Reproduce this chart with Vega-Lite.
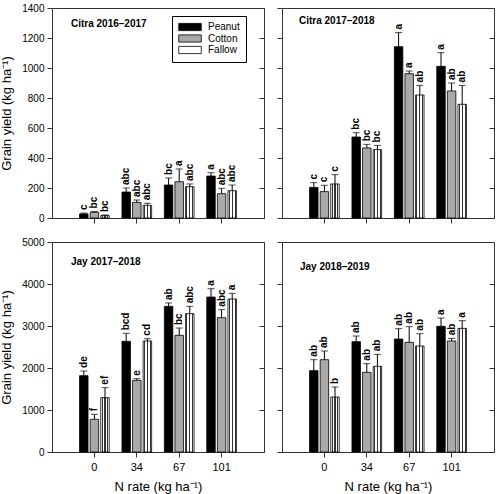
{
  "$schema": "https://vega.github.io/schema/vega-lite/v6.json",
  "background": "white",
  "padding": {"left": 0, "top": 2, "right": 5, "bottom": 0},
  "datasets": {
    "d": [
      {"panel": "Citra 2016–2017", "N": 0, "rot": "Peanut", "val": 27, "hi": 33, "lab": "c"},
      {"panel": "Citra 2016–2017", "N": 0, "rot": "Cotton", "val": 38, "hi": 44, "lab": "bc"},
      {"panel": "Citra 2016–2017", "N": 0, "rot": "Fallow", "val": 16, "hi": 20, "lab": "bc"},
      {"panel": "Citra 2016–2017", "N": 34, "rot": "Peanut", "val": 173, "hi": 200, "lab": "abc"},
      {"panel": "Citra 2016–2017", "N": 34, "rot": "Cotton", "val": 104, "hi": 120, "lab": "abc"},
      {"panel": "Citra 2016–2017", "N": 34, "rot": "Fallow", "val": 84, "hi": 98, "lab": "abc"},
      {"panel": "Citra 2016–2017", "N": 67, "rot": "Peanut", "val": 220, "hi": 267, "lab": "bc"},
      {"panel": "Citra 2016–2017", "N": 67, "rot": "Cotton", "val": 242, "hi": 327, "lab": "a"},
      {"panel": "Citra 2016–2017", "N": 67, "rot": "Fallow", "val": 209, "hi": 227, "lab": "abc"},
      {"panel": "Citra 2016–2017", "N": 101, "rot": "Peanut", "val": 280, "hi": 302, "lab": "a"},
      {"panel": "Citra 2016–2017", "N": 101, "rot": "Cotton", "val": 162, "hi": 198, "lab": "abc"},
      {"panel": "Citra 2016–2017", "N": 101, "rot": "Fallow", "val": 182, "hi": 220, "lab": "abc"},
      {"panel": "Citra 2017–2018", "N": 0, "rot": "Peanut", "val": 204, "hi": 236, "lab": "c"},
      {"panel": "Citra 2017–2018", "N": 0, "rot": "Cotton", "val": 176, "hi": 218, "lab": "c"},
      {"panel": "Citra 2017–2018", "N": 0, "rot": "Fallow", "val": 227, "hi": 289, "lab": "c"},
      {"panel": "Citra 2017–2018", "N": 34, "rot": "Peanut", "val": 540, "hi": 569, "lab": "bc"},
      {"panel": "Citra 2017–2018", "N": 34, "rot": "Cotton", "val": 467, "hi": 491, "lab": "bc"},
      {"panel": "Citra 2017–2018", "N": 34, "rot": "Fallow", "val": 456, "hi": 484, "lab": "bc"},
      {"panel": "Citra 2017–2018", "N": 67, "rot": "Peanut", "val": 1142, "hi": 1236, "lab": "a"},
      {"panel": "Citra 2017–2018", "N": 67, "rot": "Cotton", "val": 962, "hi": 980, "lab": "a"},
      {"panel": "Citra 2017–2018", "N": 67, "rot": "Fallow", "val": 820, "hi": 884, "lab": "ab"},
      {"panel": "Citra 2017–2018", "N": 101, "rot": "Peanut", "val": 1011, "hi": 1102, "lab": "a"},
      {"panel": "Citra 2017–2018", "N": 101, "rot": "Cotton", "val": 847, "hi": 900, "lab": "ab"},
      {"panel": "Citra 2017–2018", "N": 101, "rot": "Fallow", "val": 758, "hi": 884, "lab": "ab"},
      {"panel": "Jay 2017–2018", "N": 0, "rot": "Peanut", "val": 1817, "hi": 1929, "lab": "de"},
      {"panel": "Jay 2017–2018", "N": 0, "rot": "Cotton", "val": 778, "hi": 897, "lab": "f"},
      {"panel": "Jay 2017–2018", "N": 0, "rot": "Fallow", "val": 1294, "hi": 1532, "lab": "ef"},
      {"panel": "Jay 2017–2018", "N": 34, "rot": "Peanut", "val": 2635, "hi": 2825, "lab": "bcd"},
      {"panel": "Jay 2017–2018", "N": 34, "rot": "Cotton", "val": 1706, "hi": 1746, "lab": "e"},
      {"panel": "Jay 2017–2018", "N": 34, "rot": "Fallow", "val": 2643, "hi": 2698, "lab": "cd"},
      {"panel": "Jay 2017–2018", "N": 67, "rot": "Peanut", "val": 3468, "hi": 3548, "lab": "ab"},
      {"panel": "Jay 2017–2018", "N": 67, "rot": "Cotton", "val": 2778, "hi": 2952, "lab": "bc"},
      {"panel": "Jay 2017–2018", "N": 67, "rot": "Fallow", "val": 3294, "hi": 3468, "lab": "abc"},
      {"panel": "Jay 2017–2018", "N": 101, "rot": "Peanut", "val": 3690, "hi": 3889, "lab": "a"},
      {"panel": "Jay 2017–2018", "N": 101, "rot": "Cotton", "val": 3198, "hi": 3389, "lab": "abc"},
      {"panel": "Jay 2017–2018", "N": 101, "rot": "Fallow", "val": 3643, "hi": 3778, "lab": "a"},
      {"panel": "Jay 2018–2019", "N": 0, "rot": "Peanut", "val": 1937, "hi": 2198, "lab": "ab"},
      {"panel": "Jay 2018–2019", "N": 0, "rot": "Cotton", "val": 2198, "hi": 2405, "lab": "ab"},
      {"panel": "Jay 2018–2019", "N": 0, "rot": "Fallow", "val": 1310, "hi": 1548, "lab": "b"},
      {"panel": "Jay 2018–2019", "N": 34, "rot": "Peanut", "val": 2627, "hi": 2762, "lab": "ab"},
      {"panel": "Jay 2018–2019", "N": 34, "rot": "Cotton", "val": 1897, "hi": 2103, "lab": "ab"},
      {"panel": "Jay 2018–2019", "N": 34, "rot": "Fallow", "val": 2040, "hi": 2325, "lab": "ab"},
      {"panel": "Jay 2018–2019", "N": 67, "rot": "Peanut", "val": 2690, "hi": 2937, "lab": "ab"},
      {"panel": "Jay 2018–2019", "N": 67, "rot": "Cotton", "val": 2611, "hi": 2984, "lab": "ab"},
      {"panel": "Jay 2018–2019", "N": 67, "rot": "Fallow", "val": 2524, "hi": 2817, "lab": "ab"},
      {"panel": "Jay 2018–2019", "N": 101, "rot": "Peanut", "val": 2992, "hi": 3190, "lab": "a"},
      {"panel": "Jay 2018–2019", "N": 101, "rot": "Cotton", "val": 2643, "hi": 2706, "lab": "ab"},
      {"panel": "Jay 2018–2019", "N": 101, "rot": "Fallow", "val": 2944, "hi": 3127, "lab": "a"}
    ]
  },
  "columns": 2,
  "spacing": {"row": 12, "column": 11},
  "resolve": {"scale": {"fill": "independent"}, "legend": {"fill": "independent"}},
  "concat": [
    {
      "width": 212, "height": 210,
      "data": {"name": "d"},
      "transform": [{"filter": "datum.panel === 'Citra 2016–2017'"}],
      "title": {"text": "Citra 2016–2017", "anchor": "start", "frame": "group", "baseline": "top", "offset": -26, "dx": 19, "fontSize": 10, "fontWeight": "bold", "color": "black"},
      "encoding": {
        "x": {"field": "N", "type": "ordinal", "sort": [0, 34, 67, 101], "scale": {"paddingInner": 0.3, "paddingOuter": 0.65}, "axis": {"title": null, "labels": false, "labelAngle": 0}},
        "xOffset": {"field": "rot", "type": "nominal", "sort": ["Peanut", "Cotton", "Fallow"], "scale": {"paddingInner": 0.2, "paddingOuter": 0}}
      },
      "layer": [
        {"mark": {"type": "bar", "stroke": "black", "strokeWidth": 0.8},
         "encoding": {
           "y": {"field": "val", "type": "quantitative", "scale": {"domain": [0, 1400], "nice": false}, "axis": {"values": [0, 200, 400, 600, 800, 1000, 1200, 1400], "format": "d", "title": "Grain yield (kg ha⁻¹)"}},
           "fill": {"condition": {"test": "datum.rot === 'Fallow'", "value": {"gradient": "linear", "x1": 0, "y1": 0, "x2": 1, "y2": 0, "stops": [{"offset": 0, "color": "#ffffff"}, {"offset": 0.1, "color": "#ffffff"}, {"offset": 0.1, "color": "#333333"}, {"offset": 0.22, "color": "#333333"}, {"offset": 0.22, "color": "#ffffff"}, {"offset": 0.44, "color": "#ffffff"}, {"offset": 0.44, "color": "#333333"}, {"offset": 0.56, "color": "#333333"}, {"offset": 0.56, "color": "#ffffff"}, {"offset": 0.78, "color": "#ffffff"}, {"offset": 0.78, "color": "#333333"}, {"offset": 0.9, "color": "#333333"}, {"offset": 0.9, "color": "#ffffff"}, {"offset": 1, "color": "#ffffff"}]}},
                    "field": "rot", "type": "nominal",
                    "scale": {"domain": ["Peanut", "Cotton", "Fallow"], "range": ["#000000", "#a9a9a9", "#ffffff"]},
                    "legend": {"orient": "none", "legendX": 120, "legendY": 8, "title": null, "symbolType": "M-2.5,-0.8H2.5V0.8H-2.5Z", "symbolSize": 81, "symbolOffset": 7, "labelOffset": 13, "strokeColor": "black", "padding": 6, "rowPadding": -0.5, "labelFontSize": 10, "labelColor": "black", "symbolStrokeColor": "black", "symbolStrokeWidth": 0.8,
                      "encode": {"symbols": {"update": {"fill": [{"test": "datum.value === 'Peanut'", "value": "#000000"}, {"test": "datum.value === 'Cotton'", "value": "#a9a9a9"}, {"value": {"gradient": "linear", "x1": 0, "y1": 0, "x2": 1.197, "y2": 0.383, "stops": [
                        {"offset": 0, "color": "#ffffff"},
                        {"offset": 0.05, "color": "#ffffff"}, {"offset": 0.05, "color": "#444444"}, {"offset": 0.085, "color": "#444444"}, {"offset": 0.085, "color": "#ffffff"},
                        {"offset": 0.15, "color": "#ffffff"}, {"offset": 0.15, "color": "#444444"}, {"offset": 0.185, "color": "#444444"}, {"offset": 0.185, "color": "#ffffff"},
                        {"offset": 0.25, "color": "#ffffff"}, {"offset": 0.25, "color": "#444444"}, {"offset": 0.285, "color": "#444444"}, {"offset": 0.285, "color": "#ffffff"},
                        {"offset": 0.35, "color": "#ffffff"}, {"offset": 0.35, "color": "#444444"}, {"offset": 0.385, "color": "#444444"}, {"offset": 0.385, "color": "#ffffff"},
                        {"offset": 0.45, "color": "#ffffff"}, {"offset": 0.45, "color": "#444444"}, {"offset": 0.485, "color": "#444444"}, {"offset": 0.485, "color": "#ffffff"},
                        {"offset": 0.55, "color": "#ffffff"}, {"offset": 0.55, "color": "#444444"}, {"offset": 0.585, "color": "#444444"}, {"offset": 0.585, "color": "#ffffff"},
                        {"offset": 0.65, "color": "#ffffff"}, {"offset": 0.65, "color": "#444444"}, {"offset": 0.685, "color": "#444444"}, {"offset": 0.685, "color": "#ffffff"},
                        {"offset": 0.75, "color": "#ffffff"}, {"offset": 0.75, "color": "#444444"}, {"offset": 0.785, "color": "#444444"}, {"offset": 0.785, "color": "#ffffff"},
                        {"offset": 0.85, "color": "#ffffff"}, {"offset": 0.85, "color": "#444444"}, {"offset": 0.885, "color": "#444444"}, {"offset": 0.885, "color": "#ffffff"},
                        {"offset": 0.95, "color": "#ffffff"}, {"offset": 0.95, "color": "#444444"}, {"offset": 0.985, "color": "#444444"}, {"offset": 0.985, "color": "#ffffff"},
                        {"offset": 1, "color": "#ffffff"}]}}], "stroke": {"value": "black"}}}}}}
         }},
        {"mark": {"type": "rule", "color": "black", "strokeWidth": 1},
         "encoding": {"y": {"field": "val", "type": "quantitative", "axis": null}, "y2": {"field": "hi"}}},
        {"mark": {"type": "tick", "color": "black", "thickness": 1, "size": 7},
         "encoding": {"y": {"field": "hi", "type": "quantitative", "axis": {"orient": "right", "labels": false, "title": null, "domain": false, "tickSize": -5, "values": [0, 200, 400, 600, 800, 1000, 1200, 1400]}}}},
        {"mark": {"type": "text", "angle": 270, "align": "left", "baseline": "middle", "dx": 3, "fontWeight": "bold", "fontSize": 10, "color": "black"},
         "encoding": {"y": {"field": "hi", "type": "quantitative", "axis": null}, "text": {"field": "lab"}}}
      ],
      "resolve": {"axis": {"y": "independent"}}
    },
    {
      "width": 212, "height": 210,
      "data": {"name": "d"},
      "transform": [{"filter": "datum.panel === 'Citra 2017–2018'"}],
      "title": {"text": "Citra 2017–2018", "anchor": "start", "frame": "group", "baseline": "top", "offset": -18, "dx": 17, "fontSize": 10, "fontWeight": "bold", "color": "black"},
      "encoding": {
        "x": {"field": "N", "type": "ordinal", "sort": [0, 34, 67, 101], "scale": {"paddingInner": 0.3, "paddingOuter": 0.65}, "axis": {"title": null, "labels": false, "labelAngle": 0}},
        "xOffset": {"field": "rot", "type": "nominal", "sort": ["Peanut", "Cotton", "Fallow"], "scale": {"paddingInner": 0.2, "paddingOuter": 0}}
      },
      "layer": [
        {"mark": {"type": "bar", "stroke": "black", "strokeWidth": 0.8},
         "encoding": {
           "y": {"field": "val", "type": "quantitative", "scale": {"domain": [0, 1400], "nice": false}, "axis": {"values": [0, 200, 400, 600, 800, 1000, 1200, 1400], "labels": false, "title": null}},
           "fill": {"condition": {"test": "datum.rot === 'Fallow'", "value": {"gradient": "linear", "x1": 0, "y1": 0, "x2": 1, "y2": 0, "stops": [{"offset": 0, "color": "#ffffff"}, {"offset": 0.1, "color": "#ffffff"}, {"offset": 0.1, "color": "#333333"}, {"offset": 0.22, "color": "#333333"}, {"offset": 0.22, "color": "#ffffff"}, {"offset": 0.44, "color": "#ffffff"}, {"offset": 0.44, "color": "#333333"}, {"offset": 0.56, "color": "#333333"}, {"offset": 0.56, "color": "#ffffff"}, {"offset": 0.78, "color": "#ffffff"}, {"offset": 0.78, "color": "#333333"}, {"offset": 0.9, "color": "#333333"}, {"offset": 0.9, "color": "#ffffff"}, {"offset": 1, "color": "#ffffff"}]}},
                    "field": "rot", "type": "nominal",
                    "scale": {"domain": ["Peanut", "Cotton", "Fallow"], "range": ["#000000", "#a9a9a9", "#ffffff"]},
                    "legend": null}
         }},
        {"mark": {"type": "rule", "color": "black", "strokeWidth": 1},
         "encoding": {"y": {"field": "val", "type": "quantitative", "axis": null}, "y2": {"field": "hi"}}},
        {"mark": {"type": "tick", "color": "black", "thickness": 1, "size": 7},
         "encoding": {"y": {"field": "hi", "type": "quantitative", "axis": {"orient": "right", "labels": false, "title": null, "domain": false, "tickSize": -5, "values": [0, 200, 400, 600, 800, 1000, 1200, 1400]}}}},
        {"mark": {"type": "text", "angle": 270, "align": "left", "baseline": "middle", "dx": 3, "fontWeight": "bold", "fontSize": 10, "color": "black"},
         "encoding": {"y": {"field": "hi", "type": "quantitative", "axis": null}, "text": {"field": "lab"}}}
      ],
      "resolve": {"axis": {"y": "independent"}}
    },
    {
      "width": 212, "height": 210,
      "data": {"name": "d"},
      "transform": [{"filter": "datum.panel === 'Jay 2017–2018'"}],
      "title": {"text": "Jay 2017–2018", "anchor": "start", "frame": "group", "baseline": "top", "offset": -30, "dx": 19, "fontSize": 10, "fontWeight": "bold", "color": "black"},
      "encoding": {
        "x": {"field": "N", "type": "ordinal", "sort": [0, 34, 67, 101], "scale": {"paddingInner": 0.3, "paddingOuter": 0.65}, "axis": {"title": "N rate (kg ha⁻¹)", "labelAngle": 0, "labelFontSize": 11, "labelPadding": 4, "titleFontSize": 13, "titlePadding": 8}},
        "xOffset": {"field": "rot", "type": "nominal", "sort": ["Peanut", "Cotton", "Fallow"], "scale": {"paddingInner": 0.2, "paddingOuter": 0}}
      },
      "layer": [
        {"mark": {"type": "bar", "stroke": "black", "strokeWidth": 0.8},
         "encoding": {
           "y": {"field": "val", "type": "quantitative", "scale": {"domain": [0, 5000], "nice": false}, "axis": {"values": [0, 1000, 2000, 3000, 4000, 5000], "format": "d", "title": "Grain yield (kg ha⁻¹)"}},
           "fill": {"condition": {"test": "datum.rot === 'Fallow'", "value": {"gradient": "linear", "x1": 0, "y1": 0, "x2": 1, "y2": 0, "stops": [{"offset": 0, "color": "#ffffff"}, {"offset": 0.1, "color": "#ffffff"}, {"offset": 0.1, "color": "#333333"}, {"offset": 0.22, "color": "#333333"}, {"offset": 0.22, "color": "#ffffff"}, {"offset": 0.44, "color": "#ffffff"}, {"offset": 0.44, "color": "#333333"}, {"offset": 0.56, "color": "#333333"}, {"offset": 0.56, "color": "#ffffff"}, {"offset": 0.78, "color": "#ffffff"}, {"offset": 0.78, "color": "#333333"}, {"offset": 0.9, "color": "#333333"}, {"offset": 0.9, "color": "#ffffff"}, {"offset": 1, "color": "#ffffff"}]}},
                    "field": "rot", "type": "nominal",
                    "scale": {"domain": ["Peanut", "Cotton", "Fallow"], "range": ["#000000", "#a9a9a9", "#ffffff"]},
                    "legend": null}
         }},
        {"mark": {"type": "rule", "color": "black", "strokeWidth": 1},
         "encoding": {"y": {"field": "val", "type": "quantitative", "axis": null}, "y2": {"field": "hi"}}},
        {"mark": {"type": "tick", "color": "black", "thickness": 1, "size": 7},
         "encoding": {"y": {"field": "hi", "type": "quantitative", "axis": {"orient": "right", "labels": false, "title": null, "domain": false, "tickSize": -5, "values": [0, 1000, 2000, 3000, 4000, 5000]}}}},
        {"mark": {"type": "text", "angle": 270, "align": "left", "baseline": "middle", "dx": 3, "fontWeight": "bold", "fontSize": 10, "color": "black"},
         "encoding": {"y": {"field": "hi", "type": "quantitative", "axis": null}, "text": {"field": "lab"}}}
      ],
      "resolve": {"axis": {"y": "independent"}}
    },
    {
      "width": 212, "height": 210,
      "data": {"name": "d"},
      "transform": [{"filter": "datum.panel === 'Jay 2018–2019'"}],
      "title": {"text": "Jay 2018–2019", "anchor": "start", "frame": "group", "baseline": "top", "offset": -30, "dx": 18, "fontSize": 10, "fontWeight": "bold", "color": "black"},
      "encoding": {
        "x": {"field": "N", "type": "ordinal", "sort": [0, 34, 67, 101], "scale": {"paddingInner": 0.3, "paddingOuter": 0.65}, "axis": {"title": "N rate (kg ha⁻¹)", "labelAngle": 0, "labelFontSize": 11, "labelPadding": 4, "titleFontSize": 13, "titlePadding": 8}},
        "xOffset": {"field": "rot", "type": "nominal", "sort": ["Peanut", "Cotton", "Fallow"], "scale": {"paddingInner": 0.2, "paddingOuter": 0}}
      },
      "layer": [
        {"mark": {"type": "bar", "stroke": "black", "strokeWidth": 0.8},
         "encoding": {
           "y": {"field": "val", "type": "quantitative", "scale": {"domain": [0, 5000], "nice": false}, "axis": {"values": [0, 1000, 2000, 3000, 4000, 5000], "labels": false, "title": null}},
           "fill": {"condition": {"test": "datum.rot === 'Fallow'", "value": {"gradient": "linear", "x1": 0, "y1": 0, "x2": 1, "y2": 0, "stops": [{"offset": 0, "color": "#ffffff"}, {"offset": 0.1, "color": "#ffffff"}, {"offset": 0.1, "color": "#333333"}, {"offset": 0.22, "color": "#333333"}, {"offset": 0.22, "color": "#ffffff"}, {"offset": 0.44, "color": "#ffffff"}, {"offset": 0.44, "color": "#333333"}, {"offset": 0.56, "color": "#333333"}, {"offset": 0.56, "color": "#ffffff"}, {"offset": 0.78, "color": "#ffffff"}, {"offset": 0.78, "color": "#333333"}, {"offset": 0.9, "color": "#333333"}, {"offset": 0.9, "color": "#ffffff"}, {"offset": 1, "color": "#ffffff"}]}},
                    "field": "rot", "type": "nominal",
                    "scale": {"domain": ["Peanut", "Cotton", "Fallow"], "range": ["#000000", "#a9a9a9", "#ffffff"]},
                    "legend": null}
         }},
        {"mark": {"type": "rule", "color": "black", "strokeWidth": 1},
         "encoding": {"y": {"field": "val", "type": "quantitative", "axis": null}, "y2": {"field": "hi"}}},
        {"mark": {"type": "tick", "color": "black", "thickness": 1, "size": 7},
         "encoding": {"y": {"field": "hi", "type": "quantitative", "axis": {"orient": "right", "labels": false, "title": null, "domain": false, "tickSize": -5, "values": [0, 1000, 2000, 3000, 4000, 5000]}}}},
        {"mark": {"type": "text", "angle": 270, "align": "left", "baseline": "middle", "dx": 3, "fontWeight": "bold", "fontSize": 10, "color": "black"},
         "encoding": {"y": {"field": "hi", "type": "quantitative", "axis": null}, "text": {"field": "lab"}}}
      ],
      "resolve": {"axis": {"y": "independent"}}
    }
  ],
  "config": {
    "font": "Liberation Sans",
    "view": {"stroke": "#333333", "strokeWidth": 1},
    "axis": {"grid": false, "domainColor": "#333333", "tickColor": "#333333", "labelColor": "black", "titleColor": "black", "tickSize": 5, "labelFontSize": 10, "labelPadding": 3, "titleFontSize": 13, "titleFontWeight": "normal", "titlePadding": 8},
    "title": {"color": "black"}
  }
}
